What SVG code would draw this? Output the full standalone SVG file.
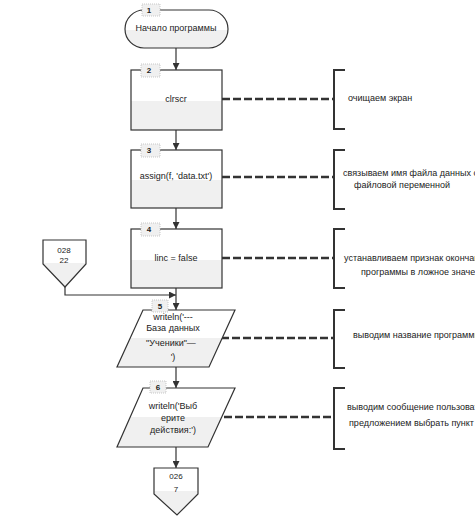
<svg xmlns="http://www.w3.org/2000/svg" width="475" height="521" viewBox="0 0 475 521">
<defs>
<linearGradient id="sh" x1="0" y1="0" x2="0" y2="1">
<stop offset="0" stop-color="#ffffff"/>
<stop offset="0.52" stop-color="#ffffff"/>
<stop offset="0.52" stop-color="#f0f0f0"/>
<stop offset="1" stop-color="#f0f0f0"/>
</linearGradient>
<linearGradient id="sh2" x1="0" y1="0" x2="0" y2="1">
<stop offset="0" stop-color="#ffffff"/>
<stop offset="0.5" stop-color="#ffffff"/>
<stop offset="0.5" stop-color="#f0f0f0"/>
<stop offset="1" stop-color="#f0f0f0"/>
</linearGradient>
<marker id="ah" viewBox="0 0 10 10" refX="10" refY="5" markerWidth="7" markerHeight="7" markerUnits="userSpaceOnUse" orient="auto">
<path d="M0,0 L10,5 L0,10 z" fill="#333"/>
</marker>
</defs>
<style>
.n{fill:url(#sh);stroke:#333;stroke-width:1.2}
.p{fill:url(#sh2);stroke:#333;stroke-width:1.2}
.t{font-family:"Liberation Sans",Arial,sans-serif;font-size:9px;fill:#222;text-anchor:middle}
.c{font-family:"Liberation Sans",Arial,sans-serif;font-size:9px;fill:#222}
.num{font-family:"Liberation Sans",Arial,sans-serif;font-size:8px;font-weight:bold;fill:#222;text-anchor:middle}
.nb{fill:#f0f0f0;stroke:#bbb;stroke-width:0.8;stroke-dasharray:1 1}
.fl{fill:none;stroke:#333;stroke-width:1.2}
.ds{fill:none;stroke:#333;stroke-width:2.5;stroke-dasharray:8 3}
.br{fill:none;stroke:#333;stroke-width:2}
</style>
<g id="connectors">
<line class="fl" x1="176" y1="48" x2="176" y2="70" marker-end="url(#ah)"/>
<line class="fl" x1="176" y1="130" x2="176" y2="150" marker-end="url(#ah)"/>
<line class="fl" x1="176" y1="208" x2="176" y2="229" marker-end="url(#ah)"/>
<line class="fl" x1="176" y1="288" x2="176" y2="310" marker-end="url(#ah)"/>
<polyline class="fl" points="65,287 65,295 176,295" marker-end="url(#ah)"/>
<line class="fl" x1="176" y1="367" x2="176" y2="388" marker-end="url(#ah)"/>
<line class="fl" x1="176" y1="447" x2="176" y2="468" marker-end="url(#ah)"/>
<line class="ds" x1="222" y1="99" x2="334" y2="99"/>
<line class="ds" x1="222" y1="177" x2="334" y2="177"/>
<line class="ds" x1="222" y1="258" x2="334" y2="258"/>
<line class="ds" x1="221" y1="338" x2="334" y2="338"/>
<line class="ds" x1="224" y1="417" x2="334" y2="417"/>
</g>
<g id="n1">
<rect class="n" x="125" y="10" width="103" height="38" rx="19" ry="19"/>
<rect class="nb" x="142" y="4" width="18" height="12"/>
<text class="num" x="149" y="13">1</text>
<text class="t" x="176" y="31">Начало программы</text>
</g>
<g id="n2">
<rect class="n" x="131" y="70" width="91" height="60"/>
<rect class="nb" x="141" y="64" width="19" height="13"/>
<text class="num" x="149" y="73">2</text>
<text class="t" x="176" y="102">clrscr</text>
</g>
<g id="n3">
<rect class="n" x="131" y="150" width="91" height="58"/>
<rect class="nb" x="141" y="144" width="19" height="13"/>
<text class="num" x="149" y="153">3</text>
<text class="t" x="176" y="179">assign(f, 'data.txt')</text>
</g>
<g id="n4">
<rect class="n" x="131" y="229" width="91" height="59"/>
<rect class="nb" x="141" y="223" width="19" height="13"/>
<text class="num" x="149" y="232">4</text>
<text class="t" x="176" y="261">linc = false</text>
</g>
<g id="c028">
<path class="p" d="M43,240 H86 V264 L65,287 L43,264 Z"/>
<text class="t" x="64" y="253" style="font-size:8px">028</text>
<text class="t" x="64" y="263" style="font-size:8px">22</text>
</g>
<g id="n5">
<path class="p" d="M143,310 H235 L209,367 H117 Z"/>
<rect class="nb" x="152" y="300" width="16" height="12"/>
<text class="num" x="160" y="309">5</text>
<text class="t" x="173" y="320">writeln('---</text>
<text class="t" x="173" y="331">База данных</text>
<text class="t" x="171" y="346">"Ученики"—</text>
<text class="t" x="173" y="360">')</text>
</g>
<g id="n6">
<path class="p" d="M143,388 H235 L208,447 H117 Z"/>
<rect class="nb" x="150" y="381" width="16" height="12"/>
<text class="num" x="158" y="390">6</text>
<text class="t" x="173" y="409">writeln('Выб</text>
<text class="t" x="173" y="421">ерите</text>
<text class="t" x="173" y="433">действия:')</text>
</g>
<g id="c026">
<path class="p" d="M154,468 H198 V494 L177,515 L154,494 Z"/>
<text class="t" x="176" y="479" style="font-size:8px">026</text>
<text class="t" x="176" y="492" style="font-size:8px">7</text>
</g>
<g id="k2">
<path class="br" d="M345,70 H334 V129 H345"/>
<text class="c" x="348" y="101">очищаем экран</text>
</g>
<g id="k3">
<path class="br" d="M345,150 H334 V209 H345"/>
<text class="c" x="343" y="176">связываем имя файла данных с</text>
<text class="c" x="354" y="188">файловой переменной</text>
</g>
<g id="k4">
<path class="br" d="M345,229 H334 V288 H345"/>
<text class="c" x="344" y="261">устанавливаем признак окончания</text>
<text class="c" x="361" y="275">программы в ложное значение</text>
</g>
<g id="k5">
<path class="br" d="M345,310 H334 V368 H345"/>
<text class="c" x="353" y="338">выводим название программы</text>
</g>
<g id="k6">
<path class="br" d="M345,388 H334 V449 H345"/>
<text class="c" x="347" y="410">выводим сообщение пользователю с</text>
<text class="c" x="349" y="426">предложением выбрать пункт меню</text>
</g>
</svg>
